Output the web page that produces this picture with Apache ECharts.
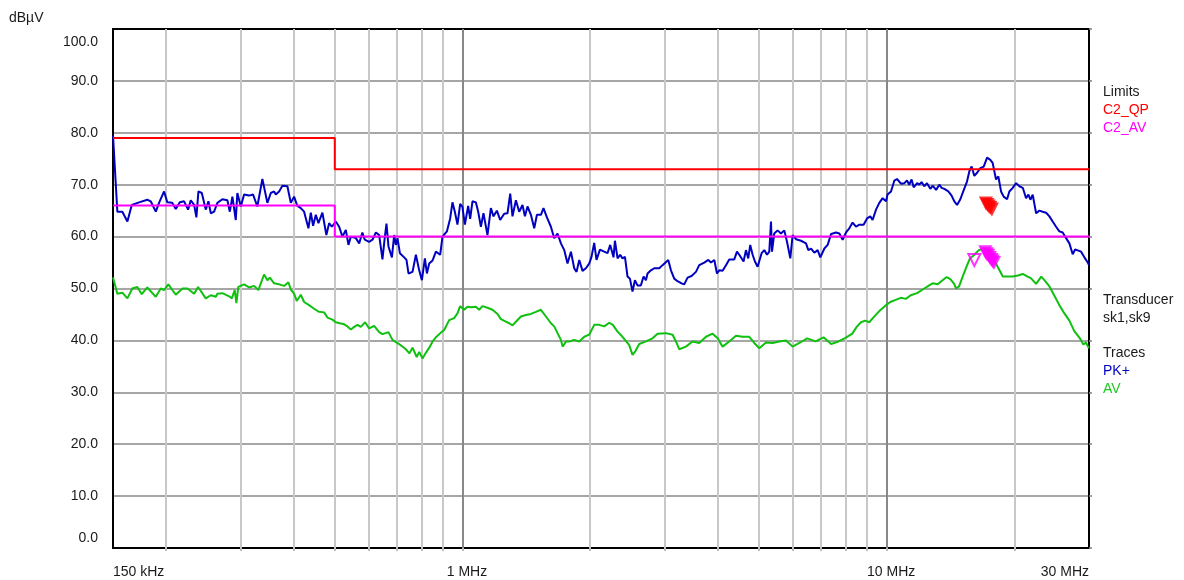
<!DOCTYPE html>
<html>
<head>
<meta charset="utf-8">
<script src="https://cdn.jsdelivr.net/npm/echarts@6/dist/echarts.min.js"></script>
<style>
html,body{margin:0;padding:0;background:#fff;}
#chart{width:1184px;height:580px;}
</style>
</head>
<body>
<div id="chart"></div>
<script>
// ---------- DATA (frequencies in MHz, levels in dBµV) ----------
const pkFreq = [
0.150,0.1536,0.1578,0.1622,0.1661,0.1728,0.1807,0.1841,0.1892,0.1926,0.1979,0.2015,0.2070,0.2109,0.2156,0.2207,0.2255,0.2288,0.2330,0.2359,
0.2385,0.2429,0.2482,0.2518,0.2551,0.2597,0.2644,0.2716,0.2791,0.2828,0.2868,0.2921,0.2946,0.3002,0.3056,0.3140,0.3209,0.3284,0.3375,0.3468,
0.3533,0.3597,0.3630,0.3696,0.3763,0.3866,0.3938,0.4009,0.4081,0.4158,0.4233,0.4333,0.4390,0.4445,0.4511,0.4575,0.4675,0.4777,0.4849,0.4920,
0.5028,0.5120,0.5212,0.5309,0.5385,0.5456,0.5606,0.5708,
0.5808,0.5884,0.5948,0.6025,0.6135,0.6250,0.6362,0.6477,0.6562,0.6620,0.6692,0.6817,0.6902,0.6966,0.7027,0.7120,0.7287,0.7379,0.7460,0.7625,
0.7766,0.7907,0.8023,0.8155,0.8244,0.8347,0.8503,0.8657,0.8860,0.8972,0.9189,0.9354,0.9471,0.9595,0.9732,0.9876,1.000,1.0131,1.0314,1.0427,
1.0558,1.0755,1.0890,1.1051,1.1208,1.1454,1.1667,1.1834,1.2054,1.2273,1.2542,1.2770,1.2959,1.3120,1.3365,1.3607,1.3853,1.4036,1.4235,1.4500,
1.4763,1.4982,1.5310,1.5524,1.5817,1.6163,1.6456,1.6754,1.7066,1.7376,1.7687,1.8019,1.8342,1.8576,1.8850,1.9187,1.9544,1.9898,2.0147,2.0445,
2.0701,2.1090,2.1587,2.1979,2.2300,2.2705,
2.288,2.321,2.354,2.384,2.416,2.450,2.482,2.517,2.550,2.586,2.634,2.673,2.707,2.731,2.782,2.832,2.910,2.963,3.056,3.101,
3.157,3.214,3.285,3.333,3.394,3.468,3.552,3.616,3.716,3.798,3.854,3.924,3.981,4.031,4.104,4.181,4.256,4.373,4.438,4.494,
4.535,4.599,4.660,4.718,4.769,4.831,4.893,4.964,5.010,5.073,5.148,5.224,5.289,5.338,5.367,5.434,5.533,5.636,5.738,5.823,
5.928,6.003,6.115,6.283,6.456,6.537,6.634,6.754,6.877,6.978,7.132,7.261,7.397,7.600,7.737,7.877,8.023,8.166,8.314,8.468,
8.621,8.826,
8.991,9.153,9.267,9.441,9.611,9.785,9.967,10.05,10.24,10.43,10.58,10.81,11.01,11.17,11.31,11.45,11.58,11.80,11.94,12.09,
12.27,12.45,12.68,12.84,13.08,13.31,13.48,13.68,13.98,14.23,14.44,14.66,14.92,15.19,15.47,15.67,15.86,16.10,16.34,16.63,
16.94,17.25,17.56,17.78,18.11,18.34,18.61,18.88,19.23,19.47,19.83,20.20,20.56,20.94,21.32,21.59,21.83,22.10,22.51,22.92,
23.33,23.77,24.20,24.63,25.09,25.54,26.01,26.49,26.97,27.46,27.82,28.32,28.74,29.26,29.80,30.0
];
const pkLevel = [
79.5,64.8,64.8,62.9,66.1,66.6,67.1,66.8,64.8,66.5,68.7,66.6,66.5,65.3,66.6,66.8,65.2,67.0,66.1,63.7,
68.7,68.4,65.2,66.8,64.5,64.8,66.5,67.2,67.0,64.8,67.7,63.2,68.4,65.8,68.1,67.9,68.1,65.8,71.1,66.5,
68.4,68.7,68.1,68.7,69.8,69.7,66.5,67.7,65.9,65.5,64.8,61.6,64.6,62.1,64.2,62.6,64.6,60.3,62.6,61.9,
62.9,61.9,60.0,61.3,58.4,60.0,59.7,58.7,
60.8,59.4,59.7,59.0,59.4,60.8,60.3,55.6,60.0,62.5,58.1,56.0,60.3,58.4,59.7,56.8,56.0,55.5,52.9,53.2,
56.5,53.5,51.6,55.8,52.9,54.8,55.4,57.1,56.5,60.0,61.0,63.5,66.6,64.8,62.3,66.3,65.7,62.3,65.9,63.4,
66.8,66.6,64.8,61.9,64.5,60.3,65.5,63.9,65.0,63.2,64.4,64.5,68.3,63.9,67.0,64.8,66.1,63.9,65.8,64.2,
61.6,64.2,64.2,65.5,63.7,61.9,59.7,60.6,58.7,57.4,54.8,57.1,53.9,53.2,55.5,53.4,53.9,54.8,56.1,58.8,
55.5,57.5,57.1,56.8,58.4,56.0,
59.2,55.8,56.5,55.8,56.1,52.3,51.9,49.4,51.6,50.6,50.6,52.3,51.6,52.9,53.5,53.9,53.9,54.5,55.5,53.5,
51.9,51.4,51.0,50.8,52.1,52.4,53.2,54.5,55.0,55.5,55.0,55.5,52.9,53.5,53.4,54.5,55.6,55.6,57.1,56.5,
56.8,55.2,57.4,55.8,58.4,56.5,55.2,54.2,54.5,56.8,57.4,56.5,57.1,62.9,57.1,60.6,61.2,60.6,61.2,59.0,
55.8,60.3,59.5,59.2,58.7,57.4,57.7,56.9,57.4,56.0,57.7,58.4,60.5,60.8,60.6,59.4,60.8,61.6,62.7,61.9,
62.3,62.3,
63.5,63.9,63.2,65.2,66.5,67.4,66.8,68.1,68.7,70.8,71.1,70.2,70.3,70.8,70.0,71.0,69.5,70.3,70.0,70.5,
69.7,70.3,69.2,69.8,69.0,70.0,69.4,69.2,68.7,67.9,66.8,66.1,67.2,68.9,70.6,72.6,73.5,71.7,72.3,73.2,
73.5,75.2,74.8,74.2,71.0,71.6,68.7,67.7,67.2,68.7,69.4,70.3,69.7,69.4,67.4,68.1,67.1,68.1,64.5,65.0,
64.8,64.6,63.9,62.9,61.9,61.0,60.8,59.7,58.7,56.6,57.5,57.3,57.1,56.0,55.0,54.5
];

const avFreq = [
0.150,0.1536,0.1578,0.1622,0.1666,0.1712,0.1753,0.1807,0.1892,0.1944,0.1979,0.2026,0.2109,0.2187,0.2247,0.2330,0.2381,0.2482,0.2551,0.2621,
0.2644,0.2716,0.2818,0.2859,0.2905,0.2931,0.2962,0.3056,0.3140,0.3226,0.3302,0.3406,0.3468,0.3514,0.3597,0.3696,0.3798,0.3887,0.3938,0.4009,
0.4068,0.4158,0.4233,0.4349,0.4469,0.4592,0.4719,0.4805,0.4937,0.5028,0.5139,0.5260,0.5356,0.5456,0.5555,0.5656,0.5757,0.5896,0.6025,0.6192,
0.6362,0.6477,0.6692,0.6839,0.7090,0.7355,0.750,0.7625,0.780,0.7907,0.805,0.8197,0.835,0.8503,0.8657,0.8894,0.9055,0.9303,0.9559,0.9732,
0.9876,1.0093,1.0275,1.0467,1.0755,1.0949,1.1147,1.1454,1.1770,1.2095,1.2320,1.2659,1.2889,1.3120,1.3365,1.3733,1.4112,1.4500,1.4900,1.5310,
1.5732,1.6163,1.6456,1.6754,1.7066,1.7225,1.7550,1.7850,1.8342,1.8850,1.9370,1.9898,2.0445,2.1010,2.1587,2.2182,2.2624,2.321,2.384,2.473,
2.517,2.560,2.611,2.707,2.806,2.884,3.018,3.129,3.186,3.244,3.364,3.486,3.616,3.751,3.888,3.997,4.104,4.256,4.414,4.576,
4.744,4.875,5.010,5.195,5.384,5.584,5.791,6.003,6.225,6.500,6.800,7.100,7.400,7.700,8.000,8.300,8.500,8.700,8.900,9.100,
9.300,9.600,9.900,10.20,10.50,10.80,11.10,11.40,11.80,12.27,12.60,12.84,13.20,13.50,13.85,14.13,14.43,14.58,14.82,15.11,
15.43,15.72,16.10,16.49,17.00,17.50,17.78,18.27,18.79,19.30,19.83,20.40,20.94,21.50,21.88,22.51,23.15,23.55,24.20,24.90,
25.54,26.25,26.97,27.70,28.50,29.10,29.50,30.00
];
const avLevel = [
52.1,49.0,49.2,48.1,50.0,50.3,48.9,50.2,48.4,50.0,49.7,50.8,48.8,50.0,50.0,49.0,50.3,48.1,48.7,48.4,
49.0,49.1,48.5,48.1,49.7,47.2,50.3,50.8,50.2,50.5,49.7,52.7,51.6,52.1,51.0,50.8,50.5,51.2,49.8,49.0,
47.6,48.8,47.4,46.8,46.1,45.5,45.4,44.4,44.0,43.5,43.3,43.1,42.7,42.1,42.6,43.0,42.6,43.5,42.3,42.8,
41.6,41.2,41.6,40.1,39.3,38.3,37.5,38.6,36.8,37.8,36.5,37.6,38.6,39.8,40.6,41.5,42.0,43.9,44.3,45.2,
46.6,45.9,46.5,46.4,46.5,45.9,46.6,46.3,45.9,45.1,44.1,43.6,43.3,42.9,43.6,44.6,44.9,45.1,45.5,45.9,
44.6,43.3,42.7,41.4,40.1,38.8,39.8,39.8,40.1,39.8,40.7,41.1,43.0,43.0,42.7,43.4,43.0,41.7,40.7,39.1,
37.2,38.0,39.3,39.8,40.4,41.3,41.4,41.1,39.8,38.3,38.8,39.8,39.5,40.7,41.3,40.4,38.8,39.8,40.9,40.7,
40.7,39.5,38.5,39.6,39.5,39.8,40.0,38.8,39.5,40.4,39.8,40.6,39.3,39.8,40.5,41.3,42.6,43.5,43.8,43.5,
44.4,45.6,46.6,47.4,47.8,48.2,48.0,48.7,49.1,50.0,50.6,51.0,50.8,51.5,52.2,51.8,50.9,50.0,50.4,52.3,
54.2,55.8,56.5,57.4,57.7,57.0,56.1,54.2,52.3,52.3,52.3,52.5,52.8,52.3,52.0,50.9,52.3,51.6,50.4,48.5,
46.8,45.2,43.8,41.8,40.5,39.2,39.6,38.5
];

// limit lines (step)
const qpLimitFreq  = [0.15, 0.5, 0.5, 30];
const qpLimitLevel = [79, 79, 73, 73];
const avLimitFreq  = [0.15, 0.5, 0.5, 30];
const avLimitLevel = [66, 66, 60, 60];

// final measurement markers
const qpMarkFreq  = [17.14, 17.28, 17.42, 17.56, 17.71];
const qpMarkLevel = [66.4, 66.1, 65.8, 65.5, 65.2];
const avMarkFreq  = [17.09, 17.23, 17.37, 17.52, 17.66, 17.79, 17.91];
const avMarkLevel = [57.0, 56.6, 56.3, 55.9, 55.5, 55.2, 54.9];
const avOpenMarkFreq  = [16.10];
const avOpenMarkLevel = [55.5];

// axes
const gridFreqs = [0.2,0.3,0.4,0.5,0.6,0.7,0.8,0.9,1,2,3,4,5,6,7,8,9,10,20];
const majorGridFreqs = [1, 10];
const xTickFreqs  = [0.15, 1, 10, 30];
const xTickLabels = ['150 kHz', '1 MHz', '10 MHz', '30 MHz'];

// legend texts
const legendBlocks = [
  {title: 'Limits', items: [['C2_QP', '#ff0000'], ['C2_AV', '#ff00ff']]},
  {title: 'Transducer', items: [['sk1,sk9', '#1a1a1a']]},
  {title: 'Traces', items: [['PK+', '#0000c0'], ['AV', '#1ec81e']]}
];

// ---------- CHART ----------
const FONT = '"Liberation Sans", Arial, sans-serif';
const TXT = '#1a1a1a';
const zip = (a, b) => a.map((v, i) => [v, b[i]]);

function xLabel(v) {
  let best = 0, bd = 1e9;
  xTickFreqs.forEach((f, i) => {
    const d = Math.abs(Math.log10(v) - Math.log10(f));
    if (d < bd) { bd = d; best = i; }
  });
  if (best === 1 || best === 2) return '{m|' + xTickLabels[best] + '}';
  return xTickLabels[best];
}

const legendGraphics = [];
const legendY = [92, 300, 353];
legendBlocks.forEach((b, bi) => {
  legendGraphics.push({type: 'text', x: 1103, y: legendY[bi], z: 10,
    style: {text: b.title, fill: TXT, font: '14px ' + FONT, verticalAlign: 'middle', align: 'left'}});
  b.items.forEach((it, ii) => {
    legendGraphics.push({type: 'text', x: 1103, y: legendY[bi] + 18.3 * (ii + 1), z: 10,
      style: {text: it[0], fill: it[1], font: '14px ' + FONT, verticalAlign: 'middle', align: 'left'}});
  });
});
legendGraphics.push({type: 'text', x: 9, y: 18, z: 10,
  style: {text: 'dBµV', fill: TXT, font: '14px ' + FONT, verticalAlign: 'middle', align: 'left'}});

const chart = echarts.init(document.getElementById('chart'), null, {renderer: 'canvas'});
chart.setOption({
  animation: false,
  backgroundColor: '#ffffff',
  textStyle: {fontFamily: FONT},
  grid: {left: 113, right: 95, top: 29, bottom: 32, show: true, borderColor: '#000', borderWidth: 2, backgroundColor: 'transparent'},
  xAxis: {
    type: 'log', logBase: 10, min: 0.15, max: 30,
    axisLine: {show: true, lineStyle: {color: '#000', width: 2}},
    axisTick: {show: true, customValues: gridFreqs, length: 3, lineStyle: {color: '#b8b8b8', width: 2}},
    axisLabel: {
      show: true, customValues: xTickFreqs, formatter: xLabel,
      color: TXT, fontSize: 14, fontFamily: FONT, margin: 16, lineHeight: 16,
      alignMinLabel: 'left', alignMaxLabel: 'right',
      rich: {m: {padding: [0, 0, 0, 9], fontSize: 14, fontFamily: FONT, color: TXT}}
    },
    splitLine: {show: false},
    minorTick: {show: false}
  },
  yAxis: [{
    type: 'value', min: 0, max: 100, interval: 10,
    axisLine: {show: true, lineStyle: {color: '#000', width: 2}},
    axisTick: {show: false},
    axisLabel: {
      color: TXT, fontSize: 14, fontFamily: FONT, margin: 15, lineHeight: 6.6,
      formatter: v => v === 100 ? '\n\n\n\n100.0' : (v === 0 ? '0.0\n\n\n' : v.toFixed(1))
    },
    splitLine: {show: true, showMinLine: false, showMaxLine: false, lineStyle: {color: '#888888', width: 1.6}}
  }, {
    type: 'value', min: 0, max: 100, interval: 10, position: 'right',
    axisLine: {show: true, lineStyle: {color: '#000', width: 2}},
    axisTick: {show: true, length: 3, lineStyle: {color: '#888888', width: 1.6}},
    axisLabel: {show: false},
    splitLine: {show: false}
  }],
  graphic: legendGraphics,
  series: [
    {
      name: 'grid', type: 'line', data: [], z: 1, silent: true,
      markLine: {
        silent: true, symbol: 'none', animation: false, z: 1,
        label: {show: false},
        data: gridFreqs.map(f => ({
          xAxis: f,
          lineStyle: {color: majorGridFreqs.indexOf(f) >= 0 ? '#888888' : '#c8c8c8', width: 2, type: 'solid'}
        }))
      }
    },
    {
      name: 'AV', type: 'line', data: zip(avFreq, avLevel), z: 3,
      showSymbol: false, symbol: 'none', lineStyle: {color: '#10c010', width: 2}, itemStyle: {color: '#10c010'}
    },
    {
      name: 'PK+', type: 'line', data: zip(pkFreq, pkLevel), z: 3,
      showSymbol: false, symbol: 'none', lineStyle: {color: '#0000c0', width: 2}, itemStyle: {color: '#0000c0'}
    },
    {
      name: 'C2_QP', type: 'line', data: zip(qpLimitFreq, qpLimitLevel), z: 4,
      showSymbol: false, symbol: 'none', lineStyle: {color: '#ff0000', width: 2}, itemStyle: {color: '#ff0000'}
    },
    {
      name: 'C2_AV', type: 'line', data: zip(avLimitFreq, avLimitLevel), z: 4,
      showSymbol: false, symbol: 'none', lineStyle: {color: '#ff00ff', width: 2}, itemStyle: {color: '#ff00ff'}
    },
    {
      name: 'QP final', type: 'scatter', data: zip(qpMarkFreq, qpMarkLevel), z: 5,
      symbol: 'triangle', symbolRotate: 180, symbolSize: 14, itemStyle: {color: '#ff0000'}
    },
    {
      name: 'AV final', type: 'scatter', data: zip(avMarkFreq, avMarkLevel), z: 5,
      symbol: 'triangle', symbolRotate: 180, symbolSize: 14, itemStyle: {color: '#ff00ff'}
    },
    {
      name: 'AV final open', type: 'scatter', data: zip(avOpenMarkFreq, avOpenMarkLevel), z: 5,
      symbol: 'triangle', symbolRotate: 180, symbolSize: 12,
      itemStyle: {color: 'rgba(255,255,255,0)', borderColor: '#ff00ff', borderWidth: 2}
    }
  ]
});
</script>
</body>
</html>
